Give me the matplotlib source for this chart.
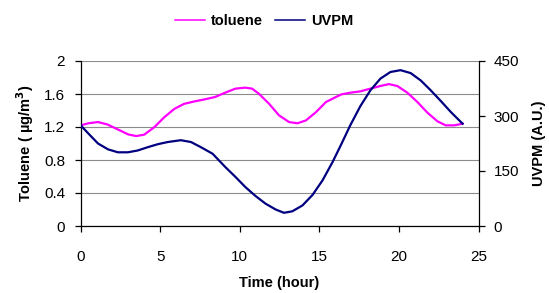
import matplotlib
matplotlib.use("Agg")
import matplotlib.pyplot as plt

plt.rcParams['font.family'] = ['Liberation Sans', 'DejaVu Sans']

tol_time = [0, 0.5, 1.1, 1.7, 2.35, 3.0, 3.5, 4.0, 4.65, 5.27, 5.9, 6.5, 7.15, 7.8,
            8.46, 9.09, 9.73, 10.36, 10.78, 11.2, 11.84, 12.47, 13.1, 13.63, 14.16,
            14.79, 15.42, 16.05, 16.4, 16.95, 17.58, 18.21, 18.84, 19.37, 19.9,
            20.53, 21.16, 21.79, 22.42, 22.94, 23.47, 24.0]
toluene = [1.22, 1.245, 1.26, 1.23, 1.17, 1.11, 1.09, 1.107, 1.2, 1.32, 1.42, 1.48, 1.51, 1.535,
           1.564, 1.616, 1.665, 1.677, 1.665, 1.604, 1.483, 1.341, 1.26, 1.245, 1.28,
           1.38, 1.503, 1.564, 1.596, 1.616, 1.632, 1.665, 1.697, 1.72, 1.697,
           1.616, 1.503, 1.374, 1.269, 1.22, 1.22, 1.24]

uv_time = [0, 0.5, 1.1, 1.73, 2.35, 2.98, 3.6, 4.23, 4.85, 5.48, 6.3, 6.94, 7.56, 8.3,
           9.09, 9.73, 10.36, 10.99, 11.62, 12.26, 12.78, 13.3, 13.94, 14.58, 15.21,
           15.84, 16.37, 16.95, 17.58, 18.21, 18.84, 19.47, 20.1, 20.74, 21.37, 22.0,
           22.63, 23.26, 24.0]
uvpm = [275, 252, 225, 209, 201, 201, 206, 215, 223, 229, 234, 229, 215, 197,
        161, 134, 106, 82, 61, 45, 36, 40, 56, 85, 125,
        175, 222, 275, 327, 370, 402, 420, 425, 417, 397, 370,
        341, 311, 279]

left_ticks = [0, 0.4, 0.8, 1.2, 1.6, 2]
left_labels = ['0', '0.4', '0.8', '1.2', '1.6', '2']
right_ticks = [0, 150, 300, 450]
x_ticks = [0, 5, 10, 15, 20, 25]

fig = plt.figure(figsize=(5.49, 2.93), dpi=100)
ax = fig.add_axes([80.5/549, 67/293, 398/549, 165/293])
ax2 = ax.twinx()

l1, = ax.plot(tol_time, toluene, color='#FF00FF', lw=1.6, label='toluene')
l2, = ax2.plot(uv_time, uvpm, color='#000080', lw=1.6, label='UVPM')

ax.set_xlim(0, 25)
ax.set_ylim(0, 2)
ax2.set_ylim(0, 450)
ax.set_xticks(x_ticks)
ax.set_yticks(left_ticks)
ax.set_yticklabels(left_labels)
ax2.set_yticks(right_ticks)

ax.yaxis.grid(True, color='#8c8c8c', lw=0.8)
ax.set_axisbelow(True)
for a in (ax, ax2):
    a.spines['top'].set_visible(False)
    for s in ('left', 'right', 'bottom'):
        a.spines[s].set_color('black')
        a.spines[s].set_linewidth(0.9)
    a.tick_params(direction='out', length=4, width=0.9, labelsize=11, colors='black')
ax.tick_params(axis='x', pad=13)
ax.tick_params(axis='y', pad=7)
ax2.tick_params(axis='y', pad=7)
ax.spines['right'].set_visible(False)
ax2.spines['left'].set_visible(False)
ax2.spines['bottom'].set_visible(False)

ax.set_xlabel('Time (hour)', fontsize=10.5, fontweight='bold', labelpad=9)
ax.set_ylabel('Toluene ( µg/m$^\\mathbf{3}$)', fontsize=10.5, fontweight='bold', labelpad=6)
ax2.set_ylabel('UVPM (A.U.)', fontsize=10.5, fontweight='bold', labelpad=9)

leg = fig.legend(handles=[l1, l2], loc='center', bbox_to_anchor=(264/549, 1 - 21/293), ncol=2,
                 frameon=False, prop={'weight': 'bold', 'size': 10.5}, handlelength=2.1,
                 handletextpad=0.4, columnspacing=0.8)
for h in leg.legend_handles:
    h.set_linewidth(1.1)

fig.savefig('out.png', dpi=100)
